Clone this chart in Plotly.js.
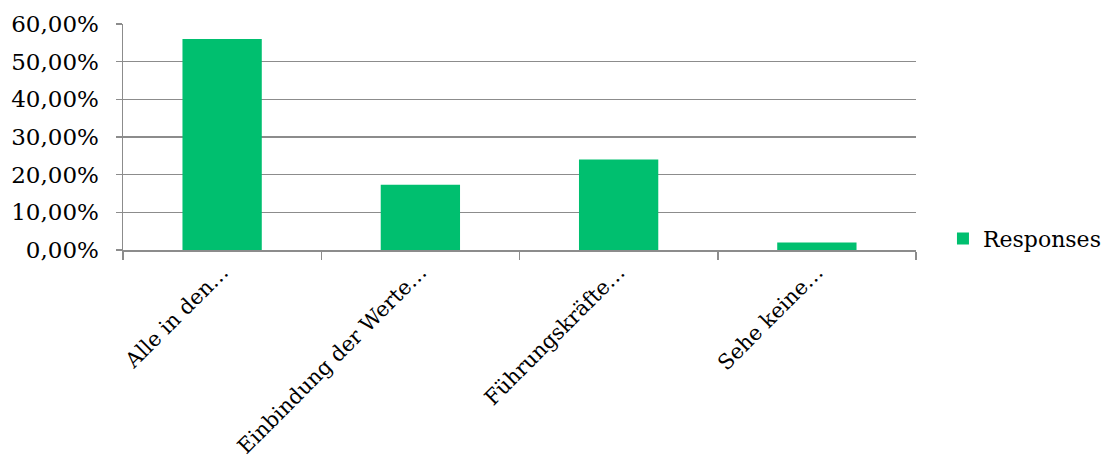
<!DOCTYPE html>
<html>
<head>
<meta charset="utf-8">
<script src="https://cdn.plot.ly/plotly-3.0.1.min.js"></script>
<style>html,body{margin:0;padding:0;background:#fff;}#chart{width:1105px;height:461px;}</style>
</head>
<body>
<div id="chart"></div>
<script>
var categories = ["Alle in den…", "Einbindung der Werte…", "Führungskräfte…", "Sehe keine…"];
var responses = [0.560, 0.173, 0.240, 0.020];
var seriesName = "Responses";
var yTicks = [0, 0.1, 0.2, 0.3, 0.4, 0.5, 0.6];

var fontFam = "DejaVu Serif, Liberation Serif, serif";
var trace = {
  type: "bar",
  x: categories,
  y: responses,
  name: seriesName,
  marker: {color: "#00BF6F"},
  showlegend: true
};
var layout = {
  width: 1105, height: 461,
  margin: {l: 123, r: 189, t: 24, b: 211, autoexpand: false},
  paper_bgcolor: "#fff", plot_bgcolor: "#fff",
  separators: ",.",
  bargap: 0.6,
  font: {family: fontFam, size: 21, color: "#000"},
  showlegend: true,
  legend: {x: 1.034, y: 0.05, xanchor: "left", yanchor: "middle", font: {family: fontFam, size: 22, color: "#000"}, itemwidth: 30, bgcolor: "rgba(0,0,0,0)"},
  xaxis: {
    type: "category",
    automargin: false,
    tickangle: -45,
    ticks: "outside", tickson: "boundaries", ticklen: 8, tickcolor: "#8c8c8c", tickwidth: 1.5,
    showline: true, linecolor: "#8c8c8c", linewidth: 1.5,
    showgrid: false, zeroline: false,
    tickfont: {family: fontFam, size: 21, color: "#000"}
  },
  yaxis: {
    range: [0, 0.6],
    automargin: false,
    tickvals: yTicks,
    tickformat: ".2%",
    ticks: "outside", ticklen: 6, tickcolor: "#8c8c8c", tickwidth: 1.5,
    ticklabelstandoff: 12,
    showline: true, linecolor: "#8c8c8c", linewidth: 1.5,
    showgrid: true, gridcolor: "#8c8c8c", gridwidth: 1.5,
    zeroline: false,
    tickfont: {family: fontFam, size: 23, color: "#000"}
  }
};
Plotly.newPlot("chart", [trace], layout, {staticPlot: true, displayModeBar: false});
</script>
</body>
</html>
